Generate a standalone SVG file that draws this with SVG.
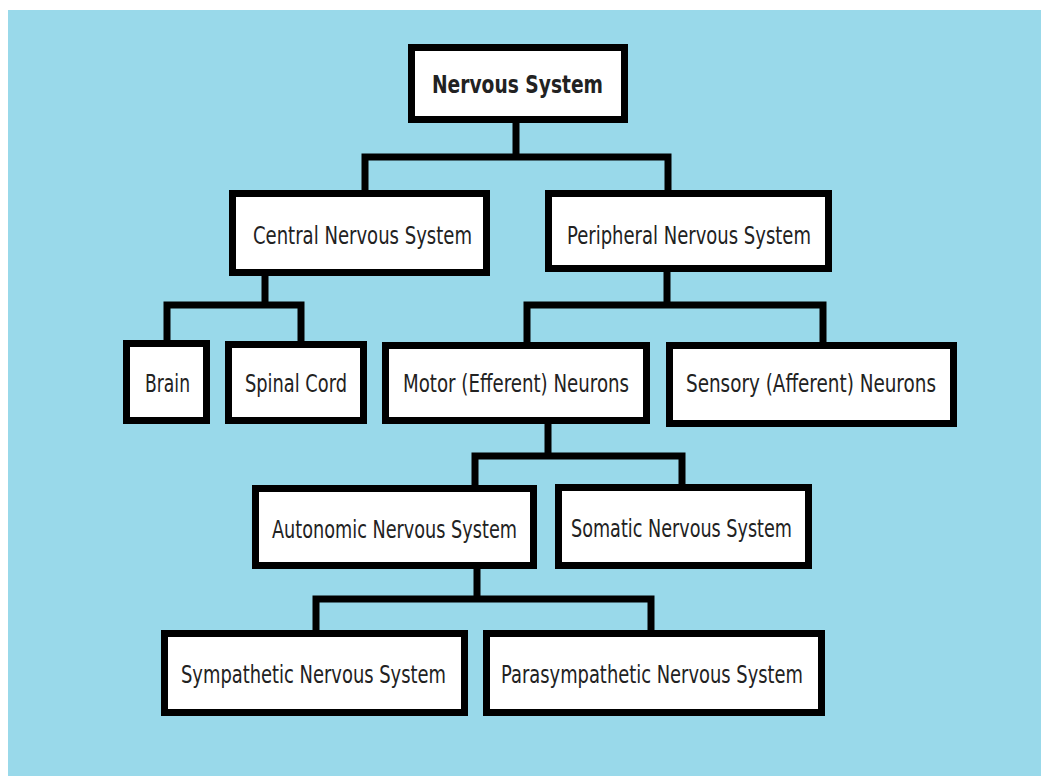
<svg xmlns="http://www.w3.org/2000/svg" width="1041" height="776" viewBox="0 0 1041 776">
<style>
.box{fill:#ffffff;stroke:#000000;stroke-width:7;stroke-linejoin:miter}
.lbl{font-family:"DejaVu Sans","Liberation Sans",sans-serif;font-size:25px;fill:#222222}
.title{font-family:"DejaVu Sans","Liberation Sans",sans-serif;font-size:24px;font-weight:bold;fill:#222222}
.conn{fill:none;stroke:#000000;stroke-width:7;stroke-linejoin:miter;stroke-linecap:square}
</style>
<rect x="0" y="0" width="1041" height="776" fill="#ffffff"/>
<rect x="8" y="10" width="1033" height="766" fill="#99D9EA"/>
<g id="connectors">
<path class="conn" d="M365 190 V157 H668 V190 M516 123 V157"/>
<path class="conn" d="M167 340 V305 H301 V341 M265 276 V305"/>
<path class="conn" d="M527 342 V305 H823 V342 M667 272 V305"/>
<path class="conn" d="M475 485 V456 H682 V484 M548 424 V456"/>
<path class="conn" d="M316 630 V599 H651 V630 M477 569 V599"/>
</g>
<g id="nervous-system">
<rect class="box" x="411.5" y="47.5" width="213" height="72"/>
<text class="title" transform="translate(432,93) scale(0.8,1)" textLength="213.75" lengthAdjust="spacingAndGlyphs">Nervous System</text>
</g>
<g id="central-nervous-system">
<rect class="box" x="232.5" y="193.5" width="254" height="79"/>
<text class="lbl" transform="translate(253,244) scale(0.68,1)" textLength="322" lengthAdjust="spacingAndGlyphs">Central Nervous System</text>
</g>
<g id="peripheral-nervous-system">
<rect class="box" x="548.5" y="193.5" width="280" height="75"/>
<text class="lbl" transform="translate(567,244) scale(0.68,1)" textLength="358.8" lengthAdjust="spacingAndGlyphs">Peripheral Nervous System</text>
</g>
<g id="brain">
<rect class="box" x="126.5" y="343.5" width="80" height="77"/>
<text class="lbl" transform="translate(145,392) scale(0.68,1)" textLength="66.2" lengthAdjust="spacingAndGlyphs">Brain</text>
</g>
<g id="spinal-cord">
<rect class="box" x="228.5" y="344.5" width="135" height="76"/>
<text class="lbl" transform="translate(245,392) scale(0.68,1)" textLength="150" lengthAdjust="spacingAndGlyphs">Spinal Cord</text>
</g>
<g id="motor-neurons">
<rect class="box" x="385.5" y="345.5" width="261" height="75"/>
<text class="lbl" transform="translate(403,392) scale(0.68,1)" textLength="332.4" lengthAdjust="spacingAndGlyphs">Motor (Efferent) Neurons</text>
</g>
<g id="sensory-neurons">
<rect class="box" x="669.5" y="345.5" width="284" height="78"/>
<text class="lbl" transform="translate(686,392) scale(0.68,1)" textLength="367.6" lengthAdjust="spacingAndGlyphs">Sensory (Afferent) Neurons</text>
</g>
<g id="autonomic-nervous-system">
<rect class="box" x="255.5" y="488.5" width="278" height="77"/>
<text class="lbl" transform="translate(272,538) scale(0.68,1)" textLength="360.3" lengthAdjust="spacingAndGlyphs">Autonomic Nervous System</text>
</g>
<g id="somatic-nervous-system">
<rect class="box" x="558.5" y="487.5" width="250" height="78"/>
<text class="lbl" transform="translate(571,537) scale(0.68,1)" textLength="325" lengthAdjust="spacingAndGlyphs">Somatic Nervous System</text>
</g>
<g id="sympathetic-nervous-system">
<rect class="box" x="164.5" y="633.5" width="300" height="79"/>
<text class="lbl" transform="translate(181,683) scale(0.68,1)" textLength="389.7" lengthAdjust="spacingAndGlyphs">Sympathetic Nervous System</text>
</g>
<g id="parasympathetic-nervous-system">
<rect class="box" x="486.5" y="633.5" width="335" height="79"/>
<text class="lbl" transform="translate(501,683) scale(0.68,1)" textLength="444.1" lengthAdjust="spacingAndGlyphs">Parasympathetic Nervous System</text>
</g>
</svg>
